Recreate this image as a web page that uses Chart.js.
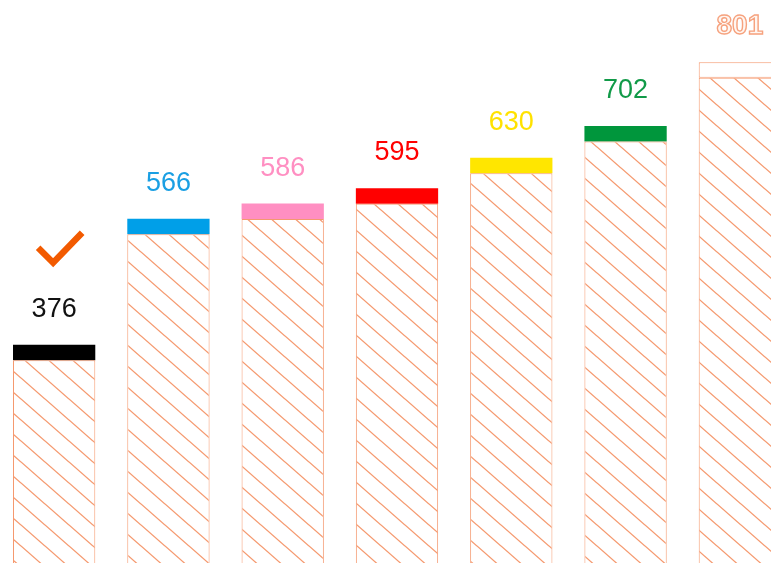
<!DOCTYPE html>
<html>
<head>
<meta charset="utf-8">
<script src="https://cdn.jsdelivr.net/npm/chart.js@4/dist/chart.umd.min.js"></script>
<style>
  html, body { margin: 0; padding: 0; background: #fff; overflow: hidden; }
  #wrap { position: absolute; left: -3px; top: 0; width: 800px; height: 594px; }
</style>
</head>
<body>
<div id="wrap"><canvas id="chart" width="800" height="594"></canvas></div>
<script>
// Data
const categories = ['1', '2', '3', '4', '5', '6', '7'];
const valueLabels = [376, 566, 586, 595, 630, 702, 801];
// bar tops as drawn (the picture's bar heights are not strictly proportional)
const barLevels = [376, 566, 589, 612, 658, 706, 802];
const capSize = 23.4;

const CAP_COLORS = ['#000000', '#009fe8', '#ff8fc2', '#ff0000', '#ffe600', '#00963c', '#ffffff'];
const LABEL_COLORS = ['#111111', '#1a9fe3', '#ff8fc2', '#ff0000', '#ffe200', '#119a48', '#f6a27e'];
const HATCH_COLOR = '#f5996f';

function makeHatch() {
  const w = 24, h = 21;
  const c = document.createElement('canvas');
  c.width = w; c.height = h;
  const ctx = c.getContext('2d');
  ctx.fillStyle = '#fff';
  ctx.fillRect(0, 0, w, h);
  ctx.strokeStyle = HATCH_COLOR;
  ctx.lineWidth = 1.3;
  [-1, 0, 1].forEach(n => {
    ctx.beginPath();
    ctx.moveTo(-2, -2 * h / w + n * h);
    ctx.lineTo(w + 2, h + 2 * h / w + n * h);
    ctx.stroke();
  });
  return ctx.createPattern(c, 'repeat');
}

const labelPlugin = {
  id: 'valueLabels',
  afterDatasetsDraw(chart) {
    const ctx = chart.ctx;
    const meta = chart.getDatasetMeta(1);
    ctx.save();
    ctx.textAlign = 'center';
    ctx.textBaseline = 'alphabetic';
    meta.data.forEach((bar, i) => {
      const y = bar.y - 28;
      if (i === valueLabels.length - 1) {
        ctx.font = 'bold 28px "Liberation Sans", Arial, sans-serif';
        ctx.fillStyle = '#fff6f1';
        ctx.fillText(String(valueLabels[i]), bar.x, y);
        ctx.lineWidth = 1.4;
        ctx.strokeStyle = LABEL_COLORS[i];
        ctx.strokeText(String(valueLabels[i]), bar.x, y);
      } else {
        ctx.font = '27px "Liberation Sans", Arial, sans-serif';
        ctx.fillStyle = LABEL_COLORS[i];
        ctx.fillText(String(valueLabels[i]), bar.x, y);
      }
    });
    // check mark above the first bar
    const b = meta.data[0];
    ctx.strokeStyle = '#f25a00';
    ctx.lineWidth = 6.5;
    ctx.lineCap = 'butt';
    ctx.lineJoin = 'miter';
    ctx.beginPath();
    ctx.moveTo(b.x - 16, b.y - 97);
    ctx.lineTo(b.x - 1, b.y - 82);
    ctx.lineTo(b.x + 28, b.y - 112);
    ctx.stroke();
    ctx.restore();
  }
};

new Chart(document.getElementById('chart'), {
  type: 'bar',
  data: {
    labels: categories,
    datasets: [
      {
        data: barLevels.map(v => v - capSize),
        backgroundColor: makeHatch(),
        borderColor: HATCH_COLOR,
        borderWidth: 1,
        borderSkipped: 'bottom',
      },
      {
        data: barLevels.map(() => capSize),
        backgroundColor: CAP_COLORS,
        borderColor: CAP_COLORS.map((c, i) => i === CAP_COLORS.length - 1 ? HATCH_COLOR : c),
        borderWidth: CAP_COLORS.map((c, i) => i === CAP_COLORS.length - 1 ? 1 : 0),
        borderSkipped: false,
      }
    ]
  },
  options: {
    responsive: false,
    animation: false,
    layout: { padding: 0 },
    datasets: { bar: { barPercentage: 0.72, categoryPercentage: 1 } },
    plugins: { legend: { display: false }, tooltip: { enabled: false } },
    scales: {
      x: { display: false, stacked: true },
      y: { display: false, stacked: true, min: 0, max: 896 }
    }
  },
  plugins: [labelPlugin]
});
</script>
</body>
</html>
